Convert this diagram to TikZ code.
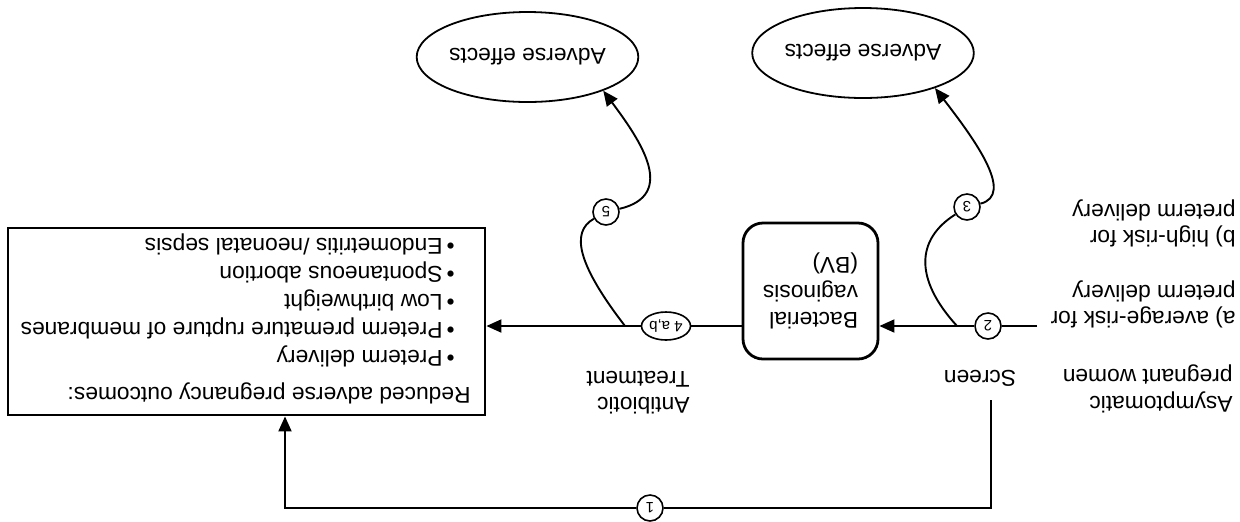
\documentclass[tikz,border=0pt]{standalone}
\usepackage{fontspec}
\setmainfont{Liberation Sans}
\usetikzlibrary{arrows.meta,shapes.geometric,calc}
\begin{document}
\begin{tikzpicture}[x=0.5pt,y=-0.5pt,
  every node/.style={rotate=180, inner sep=0pt},
  lbl/.style={font=\fontsize{11.4}{13.3}\selectfont, align=left},
  num/.style={draw, circle, minimum size=13pt, line width=0.8pt, font=\fontsize{7.5}{8}\selectfont},
  conn/.style={line width=0.95pt},
  arr/.style={conn, -{Triangle[length=7.5pt,width=6.5pt]}},
  eff/.style={draw, ellipse, minimum width=90.5pt, minimum height=45pt, line width=0.9pt, font=\fontsize{11.4}{13.3}\selectfont},
]
\useasboundingbox (0,0) rectangle (1240,521);

% boxes
\node[draw, line width=1.4pt, minimum width=238.5pt, minimum height=93.5pt] (outbox) at (246.5,321.5) {};
\node[lbl, anchor=west, font=\fontsize{11.4}{14}\selectfont] (outtext) at (471,318.5)
  {Reduced adverse pregnancy outcomes:\\[4.5pt]
   \hspace*{8pt}\makebox[6pt][l]{•}Preterm delivery\\
   \hspace*{8pt}\makebox[6pt][l]{•}Preterm premature rupture of membranes\\
   \hspace*{8pt}\makebox[6pt][l]{•}Low birthweight\\
   \hspace*{8pt}\makebox[6pt][l]{•}Spontaneous abortion\\
   \hspace*{8pt}\makebox[6pt][l]{•}Endometritis /neonatal sepsis};
\node[draw, line width=1.4pt, rounded corners=10pt, minimum width=67.5pt, minimum height=68pt,
      lbl, font=\fontsize{11.4}{13.75}\selectfont] (bv) at (810.5,291) {Bacterial\\vaginosis\\(BV)};

% ellipses
\node[eff] (ae1) at (527.5,57) {Adverse effects};
\node[eff] (ae2) at (863,53) {Adverse effects};

% numbered markers
\node[num] (c1) at (650,508) {1};
\node[num] (c2) at (988,326) {2};
\node[num] (c3) at (967,207) {3};
\node[draw, ellipse, minimum width=24.5pt, minimum height=14pt, line width=0.8pt,
      font=\fontsize{7.5}{8}\selectfont] (c4) at (666,326) {4 a,b};
\node[num] (c5) at (606,212) {5};

% labels
\node[lbl] (screen) at (980,378) {Screen};
\node[lbl, anchor=west] (abx) at (690,392.5) {Antibiotic\\Treatment};
\node[lbl, anchor=west] (asym) at (1233,389) {Asymptomatic\\pregnant women};
\node[lbl, anchor=west] (riska) at (1236,304.5) {a) average-risk for\\preterm delivery};
\node[lbl, anchor=west] (riskb) at (1236,223.5) {b) high-risk for\\preterm delivery};

% connectors
\coordinate (lstart) at (1037,326);
\coordinate (s3) at (957,326);
\coordinate (s5) at (625,326);
\coordinate (scrtop) at (991,400);
\coordinate (b0) at (991,508);
\coordinate (b1) at (285,508);

\draw[conn] (lstart) -- (c2);
\draw[arr] (c2) -- (c2 -| bv.west);
\draw[conn] (bv.east |- c4) -- (c4);
\draw[arr] (c4) -- (c4 -| outbox.west);
\draw[conn] (scrtop) -- (b0) -- (c1);
\draw[arr] (c1) -- (b1) -- (b1 |- outbox.north);
\draw[conn] (s3) .. controls (915,280) and (915,240) .. (c3);
\draw[arr] (c3) .. controls (1015,195) and (975,140) .. (ae2.154.5);
\draw[conn] (s5) .. controls (578,265) and (570,232) .. (c5);
\draw[arr] (c5) .. controls (678,195) and (640,140) .. (ae1.156);
\end{tikzpicture}
\end{document}
